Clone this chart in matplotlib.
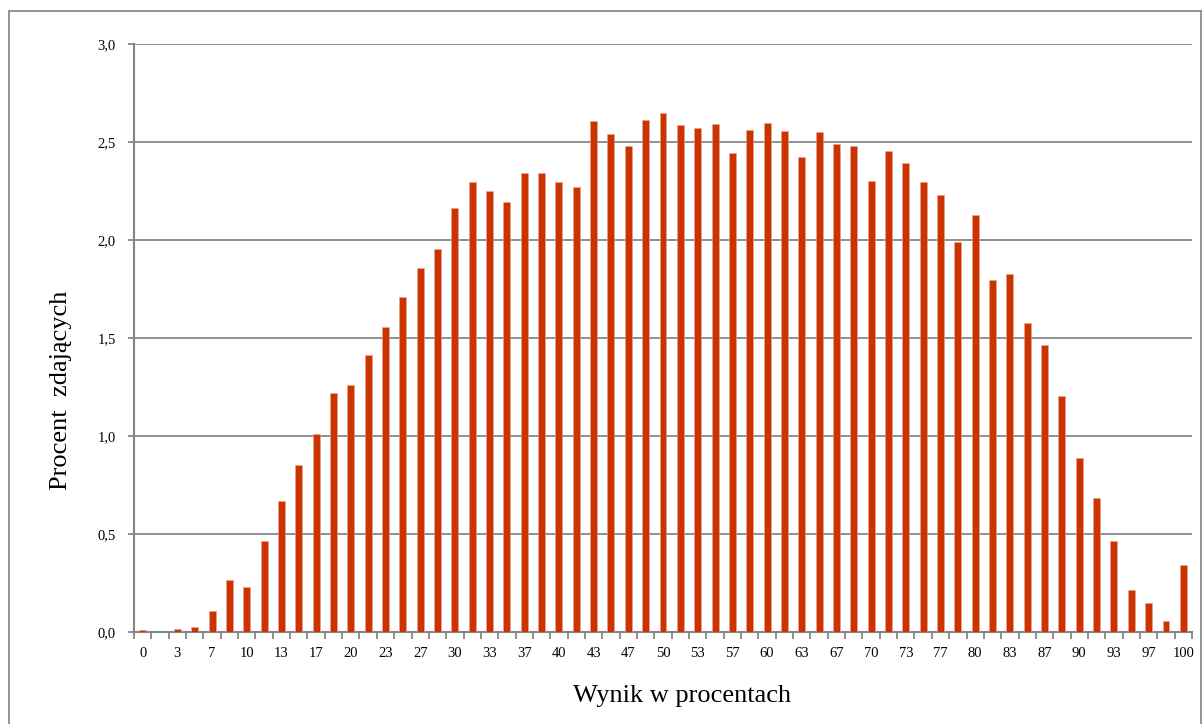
import matplotlib
matplotlib.use("Agg")
import matplotlib.pyplot as plt
from matplotlib.lines import Line2D
from matplotlib.ticker import FixedLocator, FuncFormatter

# data: percent of candidates for each score (0..60 points -> 0..100 %)
values = [0.010, 0.000, 0.017, 0.027, 0.105, 0.265, 0.231, 0.464, 0.668, 0.854,
          1.010, 1.218, 1.259, 1.413, 1.555, 1.708, 1.857, 1.956, 2.163, 2.298,
          2.250, 2.196, 2.342, 2.342, 2.298, 2.269, 2.606, 2.539, 2.478, 2.612,
          2.650, 2.586, 2.570, 2.591, 2.446, 2.561, 2.595, 2.558, 2.423, 2.553,
          2.491, 2.482, 2.300, 2.453, 2.395, 2.296, 2.230, 1.988, 2.129, 1.794,
          1.825, 1.578, 1.463, 1.202, 0.886, 0.685, 0.463, 0.216, 0.146, 0.056,
          0.344]
tick_labels = ["0", "3", "7", "10", "13", "17", "20", "23", "27", "30", "33",
               "37", "40", "43", "47", "50", "53", "57", "60", "63", "67", "70",
               "73", "77", "80", "83", "87", "90", "93", "97", "100"]
y_ticks = [0.0, 0.5, 1.0, 1.5, 2.0, 2.5, 3.0]

plt.rcParams['font.family'] = ['Liberation Serif', 'DejaVu Serif']

W, H = 1203, 724
fig = plt.figure(figsize=(W / 100, H / 100), dpi=100)
ax = fig.add_axes([134 / W, 1 - 632 / H, (1192 - 134) / W, (632 - 44) / H])

gray = '#878787'
bar_col = '#CC3300'
n = len(values)
x = list(range(n))
ax.bar(x, values, width=0.40, color=bar_col, edgecolor='#E8A890', linewidth=0.4, zorder=3)

ax.set_xlim(-0.5, n - 0.5)
ax.set_ylim(0, 3.0)

ax.set_yticks(y_ticks)
ax.yaxis.set_major_formatter(FuncFormatter(lambda v, p: f"{v:.1f}".replace('.', ',')))
ax.yaxis.grid(True, color=gray, linewidth=1.3, zorder=0)
ax.set_axisbelow(True)

# x: labels at every other category, ticks at category boundaries
ax.set_xticks(list(range(0, n, 2)))
ax.set_xticklabels(tick_labels)
ax.xaxis.set_minor_locator(FixedLocator([i - 0.5 for i in range(n + 1)]))
ax.tick_params(axis='x', which='major', length=0, pad=11, labelsize=10.5, colors='black')
ax.tick_params(axis='x', which='minor', length=5, width=1.3, color=gray)
ax.tick_params(axis='y', which='major', length=4, width=1.3, color=gray, pad=9,
               labelsize=10.5, labelcolor='black')

for s in ['top', 'right']:
    ax.spines[s].set_visible(False)
for s in ['left', 'bottom']:
    ax.spines[s].set_color(gray)
    ax.spines[s].set_linewidth(1.5)

fig.text(61 / W, 1 - 390 / H, "Procent  zdających", rotation=90, ha='center', va='center',
         fontsize=19)
fig.text(682 / W, 1 - 702 / H, "Wynik w procentach", ha='center', va='baseline', fontsize=19)

# outer chart border
bx0, by0, bx1 = 9 / W, 1 - 11 / H, 1201 / W
for xs, ys in [([bx0, bx1], [by0, by0]), ([bx0, bx0], [by0, -0.01]), ([bx1, bx1], [by0, -0.01])]:
    fig.add_artist(Line2D(xs, ys, transform=fig.transFigure, color='#8c8c8c', linewidth=1.3))

fig.savefig("out.png", dpi=100)
